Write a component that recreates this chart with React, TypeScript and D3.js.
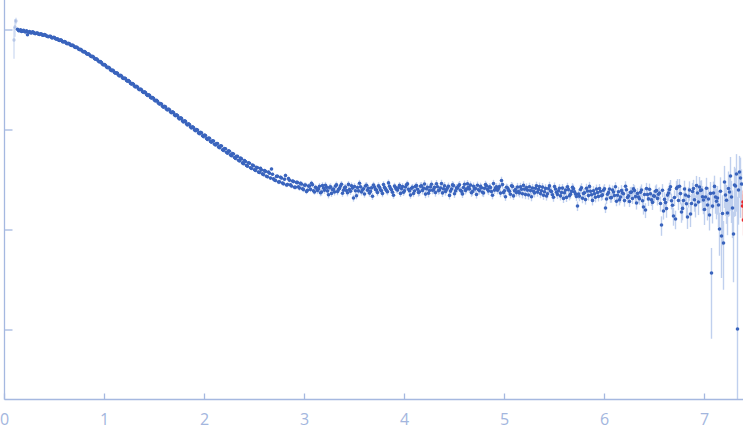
import React from "react";
import * as d3 from "d3";

// scattering vector q (nm^-1), odd frames
const Q = [
  0.13, 0.15, 0.17, 0.19, 0.21, 0.23, 0.25, 0.27, 0.29, 0.31,
  0.33, 0.35, 0.37, 0.39, 0.41, 0.43, 0.45, 0.47, 0.49, 0.51,
  0.53, 0.55, 0.57, 0.59, 0.61, 0.63, 0.65, 0.67, 0.69, 0.71,
  0.73, 0.75, 0.77, 0.79, 0.81, 0.83, 0.85, 0.87, 0.89, 0.91,
  0.93, 0.95, 0.97, 0.99, 1.01, 1.03, 1.05, 1.07, 1.09, 1.11,
  1.13, 1.15, 1.17, 1.19, 1.21, 1.23, 1.25, 1.27, 1.29, 1.31,
  1.33, 1.35, 1.37, 1.39, 1.41, 1.43, 1.45, 1.47, 1.49, 1.51,
  1.53, 1.55, 1.57, 1.59, 1.61, 1.63, 1.65, 1.67, 1.69, 1.71,
  1.73, 1.75, 1.77, 1.79, 1.81, 1.83, 1.85, 1.87, 1.89, 1.91,
  1.93, 1.95, 1.97, 1.99, 2.01, 2.03, 2.05, 2.07, 2.09, 2.11,
  2.13, 2.15, 2.17, 2.19, 2.21, 2.23, 2.25, 2.27, 2.29, 2.31,
  2.33, 2.35, 2.37, 2.39, 2.41, 2.43, 2.45, 2.47, 2.49, 2.51,
  2.53, 2.55, 2.57, 2.59, 2.61, 2.63, 2.65, 2.67, 2.69, 2.71,
  2.73, 2.75, 2.77, 2.79, 2.81, 2.83, 2.85, 2.87, 2.89, 2.91,
  2.93, 2.95, 2.97, 2.99, 3.01, 3.03, 3.05, 3.07, 3.09, 3.11,
  3.13, 3.15, 3.17, 3.19, 3.21, 3.23, 3.25, 3.27, 3.29, 3.31,
  3.33, 3.35, 3.37, 3.39, 3.41, 3.43, 3.45, 3.47, 3.49, 3.51,
  3.53, 3.55, 3.57, 3.59, 3.61, 3.63, 3.65, 3.67, 3.69, 3.71,
  3.73, 3.75, 3.77, 3.79, 3.81, 3.83, 3.85, 3.87, 3.89, 3.91,
  3.93, 3.95, 3.97, 3.99, 4.01, 4.03, 4.05, 4.07, 4.09, 4.11,
  4.13, 4.15, 4.17, 4.19, 4.21, 4.23, 4.25, 4.27, 4.29, 4.31,
  4.33, 4.35, 4.37, 4.39, 4.41, 4.43, 4.45, 4.47, 4.49, 4.51,
  4.53, 4.55, 4.57, 4.59, 4.61, 4.63, 4.65, 4.67, 4.69, 4.71,
  4.73, 4.75, 4.77, 4.79, 4.81, 4.83, 4.85, 4.87, 4.89, 4.91,
  4.93, 4.95, 4.97, 4.99, 5.01, 5.03, 5.05, 5.07, 5.09, 5.11,
  5.13, 5.15, 5.17, 5.19, 5.21, 5.23, 5.25, 5.27, 5.29, 5.31,
  5.33, 5.35, 5.37, 5.39, 5.41, 5.43, 5.45, 5.47, 5.49, 5.51,
  5.53, 5.55, 5.57, 5.59, 5.61, 5.63, 5.65, 5.67, 5.69, 5.71,
  5.73, 5.75, 5.77, 5.79, 5.81, 5.83, 5.85, 5.87, 5.89, 5.91,
  5.93, 5.95, 5.97, 5.99, 6.01, 6.03, 6.05, 6.07, 6.09, 6.11,
  6.13, 6.15, 6.17, 6.19, 6.21, 6.23, 6.25, 6.27, 6.29, 6.31,
  6.33, 6.35, 6.37, 6.39, 6.41, 6.43, 6.45, 6.47, 6.49, 6.51,
  6.53, 6.55, 6.57, 6.59, 6.61, 6.63, 6.65, 6.67, 6.69, 6.71,
  6.73, 6.75, 6.77, 6.79, 6.81, 6.83, 6.85, 6.87, 6.89, 6.91,
  6.93, 6.95, 6.97, 6.99, 7.01, 7.03, 7.05, 7.07, 7.09, 7.11,
  7.13, 7.15, 7.17, 7.19, 7.21, 7.23, 7.25, 7.27, 7.29, 7.31,
  7.33, 7.35, 7.37,
];

// log10 of scattered intensity (arbitrary units), odd frames
const LOG10_I = [
  4.008, 3.992, 3.985, 3.996, 3.980, 3.952, 3.984, 3.971, 3.978, 3.964,
  3.969, 3.955, 3.960, 3.947, 3.950, 3.936, 3.938, 3.924, 3.927, 3.912,
  3.912, 3.895, 3.896, 3.880, 3.879, 3.862, 3.861, 3.845, 3.843, 3.826,
  3.823, 3.804, 3.800, 3.781, 3.777, 3.757, 3.752, 3.734, 3.729, 3.708,
  3.702, 3.680, 3.674, 3.651, 3.647, 3.623, 3.619, 3.594, 3.591, 3.568,
  3.566, 3.541, 3.540, 3.515, 3.514, 3.487, 3.485, 3.459, 3.457, 3.431,
  3.429, 3.403, 3.402, 3.375, 3.374, 3.346, 3.347, 3.319, 3.318, 3.290,
  3.288, 3.259, 3.260, 3.228, 3.231, 3.200, 3.202, 3.172, 3.174, 3.143,
  3.145, 3.111, 3.116, 3.081, 3.086, 3.051, 3.055, 3.021, 3.025, 2.992,
  3.000, 2.963, 2.972, 2.934, 2.945, 2.906, 2.918, 2.877, 2.890, 2.850,
  2.864, 2.822, 2.840, 2.796, 2.813, 2.767, 2.788, 2.742, 2.760, 2.715,
  2.736, 2.691, 2.711, 2.662, 2.685, 2.637, 2.668, 2.615, 2.642, 2.596,
  2.622, 2.576, 2.600, 2.554, 2.586, 2.532, 2.568, 2.610, 2.511, 2.495,
  2.538, 2.481, 2.520, 2.462, 2.545, 2.454, 2.498, 2.440, 2.485, 2.427,
  2.475, 2.419, 2.460, 2.405, 2.450, 2.398, 2.440, 2.468, 2.392, 2.428,
  2.395, 2.437, 2.380, 2.420, 2.448, 2.391, 2.424, 2.366, 2.410, 2.439,
  2.384, 2.416, 2.457, 2.398, 2.429, 2.372, 2.404, 2.442, 2.320, 2.393,
  2.425, 2.468, 2.381, 2.412, 2.440, 2.397, 2.369, 2.421, 2.449, 2.406,
  2.374, 2.428, 2.392, 2.454, 2.411, 2.383, 2.437, 2.402, 2.348, 2.424,
  2.399, 2.446, 2.414, 2.377, 2.430, 2.461, 2.393, 2.418, 2.365, 2.436,
  2.408, 2.382, 2.441, 2.416, 2.359, 2.427, 2.395, 2.458, 2.403, 2.374,
  2.432, 2.400, 2.465, 2.412, 2.385, 2.423, 2.346, 2.409, 2.444, 2.391,
  2.417, 2.453, 2.388, 2.425, 2.396, 2.462, 2.410, 2.373, 2.438, 2.414,
  2.447, 2.394, 2.422, 2.370, 2.455, 2.406, 2.431, 2.384, 2.464, 2.419,
  2.398, 2.435, 2.495, 2.376, 2.332, 2.420, 2.387, 2.443, 2.341, 2.404,
  2.430, 2.371, 2.407, 2.446, 2.354, 2.399, 2.432, 2.333, 2.388, 2.417,
  2.379, 2.434, 2.392, 2.347, 2.416, 2.363, 2.441, 2.385, 2.328, 2.410,
  2.355, 2.418, 2.374, 2.316, 2.399, 2.431, 2.342, 2.386, 2.413, 2.361,
  2.240, 2.338, 2.422, 2.365, 2.304, 2.390, 2.436, 2.352, 2.393, 2.327,
  2.375, 2.414, 2.343, 2.398, 2.220, 2.357, 2.409, 2.324, 2.380, 2.432,
  2.348, 2.302, 2.395, 2.362, 2.438, 2.326, 2.285, 2.379, 2.411, 2.334,
  2.366, 2.313, 2.399, 2.230, 2.200, 2.354, 2.407, 2.301, 2.342, 2.388,
  2.316, 2.370, 2.050, 2.190, 2.274, 2.349, 2.405, 2.292, 2.140, 2.110,
  2.430, 2.438, 2.180, 2.295, 2.350, 2.130, 2.400, 2.265, 2.415, 2.250,
  2.370, 2.430, 2.400, 2.300, 2.330, 2.250, 2.150, 1.570, 2.370, 2.330,
  2.320, 2.010, 1.940, 1.870, 2.350, 2.170, 2.380, 2.330, 1.960, 2.440,
  1.010, 2.580, 2.460,
];

// relative uncertainty of intensity (percent), odd frames
const ERR_PCT = [
  1, 1, 1, 1, 1, 1, 1, 1, 1, 1,
  1, 1, 1, 1, 1, 1, 1, 1, 1, 1,
  1, 1, 1, 1, 1, 1, 1, 1, 1, 1,
  1, 1, 1, 1, 1, 1, 1, 1, 1, 1,
  1, 1, 1, 1, 1, 1, 1, 1, 1, 1,
  2, 2, 2, 2, 2, 2, 2, 2, 2, 2,
  2, 2, 2, 2, 2, 2, 2, 2, 2, 2,
  2, 2, 2, 2, 2, 2, 2, 2, 2, 2,
  2, 2, 2, 2, 2, 2, 2, 2, 2, 2,
  3, 3, 3, 3, 3, 3, 3, 3, 3, 3,
  3, 3, 3, 3, 3, 3, 3, 3, 3, 3,
  3, 3, 3, 3, 3, 3, 3, 3, 3, 3,
  4, 4, 4, 4, 4, 4, 4, 4, 4, 4,
  5, 5, 5, 5, 5, 5, 5, 5, 5, 5,
  6, 6, 6, 6, 6, 6, 6, 6, 6, 6,
  8, 8, 8, 8, 8, 8, 8, 8, 8, 8,
  8, 8, 8, 8, 8, 8, 8, 8, 8, 8,
  8, 8, 8, 8, 8, 8, 8, 8, 8, 8,
  8, 8, 8, 8, 8, 8, 8, 8, 8, 8,
  8, 8, 8, 8, 8, 8, 8, 8, 8, 8,
  9, 9, 9, 9, 9, 9, 9, 9, 9, 9,
  9, 9, 9, 9, 9, 9, 9, 9, 9, 9,
  9, 9, 9, 9, 9, 9, 9, 9, 9, 9,
  9, 9, 9, 9, 9, 9, 9, 9, 9, 9,
  9, 9, 9, 9, 9, 9, 9, 9, 9, 9,
  10, 10, 10, 10, 10, 10, 10, 10, 10, 10,
  10, 10, 10, 10, 10, 10, 10, 10, 10, 10,
  10, 10, 10, 10, 10, 10, 10, 10, 10, 10,
  11, 11, 11, 11, 11, 11, 11, 11, 11, 11,
  11, 11, 11, 11, 11, 11, 11, 11, 11, 11,
  12, 12, 13, 12, 12, 13, 12, 13, 12, 12,
  13, 13, 14, 16, 17, 13, 14, 13, 14, 14,
  15, 14, 22, 18, 16, 16, 17, 18, 20, 21,
  20, 18, 22, 20, 21, 24, 22, 24, 22, 25,
  24, 26, 25, 28, 27, 30, 30, 78, 30, 32,
  32, 46, 62, 66, 38, 40, 42, 45, 67, 50,
  2000, 45, 40,
];

// even frames
const Q_EVEN = [
  0.14, 0.16, 0.18, 0.20, 0.22, 0.24, 0.26, 0.28, 0.30, 0.32,
  0.34, 0.36, 0.38, 0.40, 0.42, 0.44, 0.46, 0.48, 0.50, 0.52,
  0.54, 0.56, 0.58, 0.60, 0.62, 0.64, 0.66, 0.68, 0.70, 0.72,
  0.74, 0.76, 0.78, 0.80, 0.82, 0.84, 0.86, 0.88, 0.90, 0.92,
  0.94, 0.96, 0.98, 1.00, 1.02, 1.04, 1.06, 1.08, 1.10, 1.12,
  1.14, 1.16, 1.18, 1.20, 1.22, 1.24, 1.26, 1.28, 1.30, 1.32,
  1.34, 1.36, 1.38, 1.40, 1.42, 1.44, 1.46, 1.48, 1.50, 1.52,
  1.54, 1.56, 1.58, 1.60, 1.62, 1.64, 1.66, 1.68, 1.70, 1.72,
  1.74, 1.76, 1.78, 1.80, 1.82, 1.84, 1.86, 1.88, 1.90, 1.92,
  1.94, 1.96, 1.98, 2.00, 2.02, 2.04, 2.06, 2.08, 2.10, 2.12,
  2.14, 2.16, 2.18, 2.20, 2.22, 2.24, 2.26, 2.28, 2.30, 2.32,
  2.34, 2.36, 2.38, 2.40, 2.42, 2.44, 2.46, 2.48, 2.50, 2.52,
  2.54, 2.56, 2.58, 2.60, 2.62, 2.64, 2.66, 2.68, 2.70, 2.72,
  2.74, 2.76, 2.78, 2.80, 2.82, 2.84, 2.86, 2.88, 2.90, 2.92,
  2.94, 2.96, 2.98, 3.00, 3.02, 3.04, 3.06, 3.08, 3.10, 3.12,
  3.14, 3.16, 3.18, 3.20, 3.22, 3.24, 3.26, 3.28, 3.30, 3.32,
  3.34, 3.36, 3.38, 3.40, 3.42, 3.44, 3.46, 3.48, 3.50, 3.52,
  3.54, 3.56, 3.58, 3.60, 3.62, 3.64, 3.66, 3.68, 3.70, 3.72,
  3.74, 3.76, 3.78, 3.80, 3.82, 3.84, 3.86, 3.88, 3.90, 3.92,
  3.94, 3.96, 3.98, 4.00, 4.02, 4.04, 4.06, 4.08, 4.10, 4.12,
  4.14, 4.16, 4.18, 4.20, 4.22, 4.24, 4.26, 4.28, 4.30, 4.32,
  4.34, 4.36, 4.38, 4.40, 4.42, 4.44, 4.46, 4.48, 4.50, 4.52,
  4.54, 4.56, 4.58, 4.60, 4.62, 4.64, 4.66, 4.68, 4.70, 4.72,
  4.74, 4.76, 4.78, 4.80, 4.82, 4.84, 4.86, 4.88, 4.90, 4.92,
  4.94, 4.96, 4.98, 5.00, 5.02, 5.04, 5.06, 5.08, 5.10, 5.12,
  5.14, 5.16, 5.18, 5.20, 5.22, 5.24, 5.26, 5.28, 5.30, 5.32,
  5.34, 5.36, 5.38, 5.40, 5.42, 5.44, 5.46, 5.48, 5.50, 5.52,
  5.54, 5.56, 5.58, 5.60, 5.62, 5.64, 5.66, 5.68, 5.70, 5.72,
  5.74, 5.76, 5.78, 5.80, 5.82, 5.84, 5.86, 5.88, 5.90, 5.92,
  5.94, 5.96, 5.98, 6.00, 6.02, 6.04, 6.06, 6.08, 6.10, 6.12,
  6.14, 6.16, 6.18, 6.20, 6.22, 6.24, 6.26, 6.28, 6.30, 6.32,
  6.34, 6.36, 6.38, 6.40, 6.42, 6.44, 6.46, 6.48, 6.50, 6.52,
  6.54, 6.56, 6.58, 6.60, 6.62, 6.64, 6.66, 6.68, 6.70, 6.72,
  6.74, 6.76, 6.78, 6.80, 6.82, 6.84, 6.86, 6.88, 6.90, 6.92,
  6.94, 6.96, 6.98, 7.00, 7.02, 7.04, 7.06, 7.08, 7.10, 7.12,
  7.14, 7.16, 7.18, 7.20, 7.22, 7.24, 7.26, 7.28, 7.30, 7.32,
  7.34, 7.36,
];

const LOG10_I_EVEN = [
  3.994, 4.002, 3.988, 3.985, 3.991, 3.977, 3.972, 3.981, 3.965, 3.970,
  3.957, 3.963, 3.948, 3.954, 3.940, 3.933, 3.937, 3.920, 3.925, 3.907,
  3.899, 3.901, 3.882, 3.885, 3.866, 3.868, 3.849, 3.850, 3.830, 3.829,
  3.809, 3.807, 3.787, 3.784, 3.762, 3.761, 3.739, 3.737, 3.714, 3.711,
  3.687, 3.684, 3.658, 3.655, 3.630, 3.628, 3.601, 3.599, 3.574, 3.572,
  3.548, 3.547, 3.521, 3.520, 3.495, 3.494, 3.466, 3.465, 3.438, 3.437,
  3.410, 3.409, 3.382, 3.381, 3.354, 3.353, 3.326, 3.325, 3.297, 3.296,
  3.267, 3.265, 3.237, 3.236, 3.208, 3.210, 3.180, 3.181, 3.151, 3.152,
  3.121, 3.122, 3.090, 3.091, 3.060, 3.061, 3.030, 3.031, 3.000, 3.004,
  2.971, 2.976, 2.942, 2.949, 2.914, 2.920, 2.886, 2.893, 2.858, 2.865,
  2.831, 2.842, 2.803, 2.815, 2.777, 2.791, 2.751, 2.764, 2.725, 2.738,
  2.698, 2.719, 2.671, 2.694, 2.646, 2.672, 2.623, 2.649, 2.602, 2.627,
  2.579, 2.616, 2.561, 2.594, 2.538, 2.580, 2.519, 2.557, 2.500, 2.536,
  2.480, 2.527, 2.469, 2.508, 2.450, 2.514, 2.451, 2.490, 2.428, 2.476,
  2.431, 2.466, 2.413, 2.448, 2.385, 2.439, 2.406, 2.452, 2.380, 2.417,
  2.411, 2.373, 2.444, 2.397, 2.426, 2.352, 2.433, 2.404, 2.381, 2.451,
  2.405, 2.440, 2.368, 2.421, 2.394, 2.456, 2.387, 2.419, 2.435, 2.343,
  2.391, 2.432, 2.403, 2.360, 2.447, 2.418, 2.386, 2.337, 2.430, 2.399,
  2.443, 2.401, 2.364, 2.426, 2.395, 2.471, 2.414, 2.378, 2.439, 2.407,
  2.422, 2.366, 2.435, 2.392, 2.452, 2.408, 2.349, 2.427, 2.390, 2.445,
  2.375, 2.438, 2.396, 2.460, 2.413, 2.367, 2.431, 2.398, 2.426, 2.462,
  2.394, 2.420, 2.371, 2.442, 2.405, 2.437, 2.389, 2.451, 2.362, 2.423,
  2.440, 2.397, 2.361, 2.457, 2.409, 2.428, 2.449, 2.384, 2.411, 2.355,
  2.402, 2.436, 2.377, 2.418, 2.441, 2.390, 2.424, 2.348, 2.399, 2.432,
  2.415, 2.369, 2.454, 2.393, 2.427, 2.401, 2.358, 2.436, 2.392, 2.374,
  2.385, 2.431, 2.362, 2.408, 2.425, 2.350, 2.394, 2.420, 2.371, 2.442,
  2.406, 2.364, 2.429, 2.382, 2.340, 2.415, 2.391, 2.353, 2.434, 2.377,
  2.393, 2.341, 2.419, 2.372, 2.326, 2.404, 2.358, 2.427, 2.383, 2.335,
  2.360, 2.405, 2.318, 2.373, 2.417, 2.344, 2.388, 2.296, 2.362, 2.409,
  2.336, 2.387, 2.351, 2.413, 2.310, 2.374, 2.322, 2.400, 2.345, 2.288,
  2.382, 2.329, 2.370, 2.294, 2.403, 2.341, 2.376, 2.315, 2.394, 2.270,
  2.330, 2.378, 2.292, 2.355, 2.414, 2.311, 2.363, 2.276, 2.337, 2.395,
  2.357, 2.265, 2.398, 2.306, 2.214, 2.369, 2.432, 2.248, 2.325, 2.416,
  2.295, 2.364, 2.216, 2.410, 2.263, 2.338, 2.160, 2.385, 2.302, 2.444,
  2.280, 2.396, 2.332, 2.205, 2.418, 2.310, 2.366, 2.239, 2.436, 2.287,
  2.250, 2.387, 2.165, 2.480, 2.298, 2.415, 2.540, 2.220, 2.450, 2.560,
  2.400, 2.520,
];

const ERR_PCT_EVEN = [
  1, 1, 1, 1, 1, 1, 1, 1, 1, 1,
  1, 1, 1, 1, 1, 1, 1, 1, 1, 1,
  1, 1, 1, 1, 1, 1, 1, 1, 1, 1,
  1, 1, 1, 1, 1, 1, 1, 1, 1, 1,
  1, 1, 1, 1, 1, 1, 1, 1, 1, 1,
  2, 2, 2, 2, 2, 2, 2, 2, 2, 2,
  2, 2, 2, 2, 2, 2, 2, 2, 2, 2,
  2, 2, 2, 2, 2, 2, 2, 2, 2, 2,
  2, 2, 2, 2, 2, 2, 2, 2, 2, 2,
  3, 3, 3, 3, 3, 3, 3, 3, 3, 3,
  3, 3, 3, 3, 3, 3, 3, 3, 3, 3,
  3, 3, 3, 3, 3, 3, 3, 3, 3, 3,
  4, 4, 4, 4, 4, 4, 4, 4, 4, 4,
  5, 5, 5, 5, 5, 5, 5, 5, 5, 5,
  6, 6, 6, 6, 6, 6, 6, 6, 6, 6,
  8, 8, 8, 8, 8, 8, 8, 8, 8, 8,
  8, 8, 8, 8, 8, 8, 8, 8, 8, 8,
  8, 8, 8, 8, 8, 8, 8, 8, 8, 8,
  8, 8, 8, 8, 8, 8, 8, 8, 8, 8,
  8, 8, 8, 8, 8, 8, 8, 8, 8, 8,
  9, 9, 9, 9, 9, 9, 9, 9, 9, 9,
  9, 9, 9, 9, 9, 9, 9, 9, 9, 9,
  9, 9, 9, 9, 9, 9, 9, 9, 9, 9,
  9, 9, 9, 9, 9, 9, 9, 9, 9, 9,
  9, 9, 9, 9, 9, 9, 9, 9, 9, 9,
  10, 10, 10, 10, 10, 10, 10, 10, 10, 10,
  10, 10, 10, 10, 10, 10, 10, 10, 10, 10,
  10, 10, 10, 10, 10, 10, 10, 10, 10, 10,
  11, 11, 11, 11, 11, 11, 11, 11, 11, 11,
  11, 11, 11, 11, 11, 11, 11, 11, 11, 11,
  12, 13, 12, 13, 12, 12, 13, 12, 13, 14,
  13, 14, 13, 15, 14, 15, 14, 16, 14, 15,
  16, 17, 15, 18, 19, 16, 17, 20, 18, 19,
  20, 22, 24, 21, 25, 23, 26, 22, 24, 25,
  26, 25, 28, 30, 27, 32, 30, 33, 28, 34,
  40, 38, 52, 45, 42, 48, 55, 50, 52, 58,
  55, 60,
];

// points outside the fitted range at low q (drawn faint)
const Q_EXCLUDED = [0.095, 0.105, 0.115];
const LOG10_I_EXCLUDED = [3.9, 4.03, 4.09];
const ERR_PCT_EXCLUDED = [35, 20, 8];

// points flagged at high q (drawn red)
const Q_FLAGGED = [7.38, 7.385, 7.39];
const LOG10_I_FLAGGED = [2.24, 2.28, 2.1];
const ERR_PCT_FLAGGED = [30, 30, 30];

const X_TICKS = [0, 1, 2, 3, 4, 5, 6, 7];
const Y_TICKS = [10000, 1000, 100, 10];

const W = 743;
const H = 437;
const LEFT = 4.5;
const BOTTOM = 399.5;

export default function App() {
  const x = d3.scaleLinear().domain([0, 7.385]).range([LEFT, W]);
  const y = d3.scaleLog().domain([Math.pow(10, 0.305), Math.pow(10, 4.3)]).range([BOTTOM, 0]);

  const axisColor = "#a5b8e0";
  const dotColor = "#3a64bd";
  const barColor = "#c0d0ee";
  const R = 1.8;

  const mk = (qs: number[], ls: number[], es: number[]) =>
    qs.map((q, i) => {
      const I = Math.pow(10, ls[i]);
      const e = (I * es[i]) / 100;
      const hi = Math.max(0, y(I + e));
      const lo = I - e > 0 ? Math.min(BOTTOM, y(I - e)) : BOTTOM;
      return { cx: x(q), cy: y(I), hi, lo };
    });

  const main = mk(Q.concat(Q_EVEN), LOG10_I.concat(LOG10_I_EVEN), ERR_PCT.concat(ERR_PCT_EVEN));
  const excl = mk(Q_EXCLUDED, LOG10_I_EXCLUDED, ERR_PCT_EXCLUDED);
  const flag = mk(Q_FLAGGED, LOG10_I_FLAGGED, ERR_PCT_FLAGGED);

  return (
    <svg
      width={W}
      height={H}
      style={{ position: "absolute", left: 0, top: 0, background: "#fff" }}
    >
      <defs>
        <clipPath id="plot">
          <rect x={LEFT} y={0} width={W - LEFT} height={BOTTOM} />
        </clipPath>
      </defs>
      <g clipPath="url(#plot)">
        {excl.map((p, i) => (
          <line key={"ee" + i} x1={p.cx} x2={p.cx} y1={p.hi} y2={p.lo} stroke={barColor} strokeOpacity={0.7} strokeWidth={1.4} />
        ))}
        {main.map((p, i) => (
          <line key={"e" + i} x1={p.cx} x2={p.cx} y1={p.hi} y2={p.lo} stroke={barColor} strokeWidth={1.4} />
        ))}
        {flag.map((p, i) => (
          <line key={"fe" + i} x1={p.cx} x2={p.cx} y1={p.hi} y2={p.lo} stroke="#f2b8b8" strokeWidth={1.4} />
        ))}
        {excl.map((p, i) => (
          <circle key={"ed" + i} cx={p.cx} cy={p.cy} r={R} fill={dotColor} fillOpacity={0.25} />
        ))}
        {main.map((p, i) => (
          <circle key={"d" + i} cx={p.cx} cy={p.cy} r={R} fill={dotColor} />
        ))}
        {flag.map((p, i) => (
          <circle key={"fd" + i} cx={p.cx} cy={p.cy} r={R} fill="#e8262b" />
        ))}
      </g>
      <line x1={LEFT} x2={LEFT} y1={0} y2={BOTTOM} stroke={axisColor} strokeWidth={1.3} />
      <line x1={LEFT} x2={W} y1={BOTTOM} y2={BOTTOM} stroke={axisColor} strokeWidth={1.3} />
      {Y_TICKS.map((t) => (
        <line key={"yt" + t} x1={LEFT} x2={LEFT + 8} y1={y(t)} y2={y(t)} stroke={axisColor} strokeWidth={1.3} />
      ))}
      {X_TICKS.map((t) => (
        <g key={"xt" + t}>
          <line x1={x(t)} x2={x(t)} y1={BOTTOM} y2={BOTTOM - 6} stroke={axisColor} strokeWidth={1.3} />
          <text
            x={x(t)}
            y={425}
            textAnchor="middle"
            fontFamily="'Open Sans', sans-serif"
            fontSize={16}
            fill="#a3b6de"
          >
            {t}
          </text>
        </g>
      ))}
    </svg>
  );
}
